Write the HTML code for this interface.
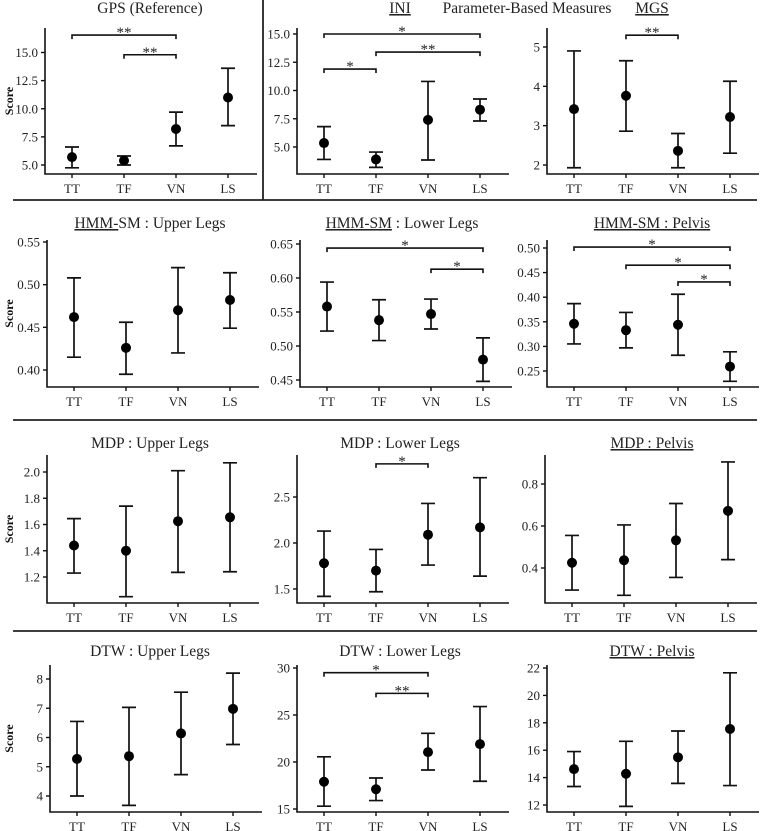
<!DOCTYPE html>
<html><head><meta charset="utf-8"><style>
body{margin:0;background:#fff;}
svg{display:block;font-family:"Liberation Serif",serif;}
</style></head><body>
<svg id="c" width="763" height="831" viewBox="0 0 763 831"></svg>
<script>
const categories=["TT","TF","VN","LS"];
const titles=["GPS (Reference)","INI","MGS","HMM-SM : Upper Legs","HMM-SM : Lower Legs","HMM-SM : Pelvis","MDP : Upper Legs","MDP : Lower Legs","MDP : Pelvis","DTW : Upper Legs","DTW : Lower Legs","DTW : Pelvis"];
const meanValues=[[5.7,5.4,8.2,11.0],[5.35,3.9,7.4,8.3],[3.42,3.76,2.36,3.22],[0.462,0.426,0.47,0.482],[0.558,0.538,0.547,0.48],[0.346,0.333,0.344,0.259],[1.44,1.40,1.625,1.655],[1.78,1.70,2.09,2.17],[0.425,0.437,0.532,0.672],[5.27,5.36,6.14,6.98],[17.9,17.1,21.05,21.9],[14.62,14.28,15.48,17.55]];
const upperValues=[[6.6,5.8,9.7,13.6],[6.8,4.55,10.8,9.25],[4.9,4.65,2.8,4.13],[0.508,0.456,0.52,0.514],[0.594,0.568,0.569,0.512],[0.387,0.369,0.406,0.289],[1.645,1.74,2.01,2.07],[2.13,1.93,2.43,2.71],[0.555,0.605,0.707,0.905],[6.55,7.03,7.55,8.2],[20.55,18.3,23.05,25.9],[15.9,16.65,17.4,21.65]];
const lowerValues=[[4.75,5.0,6.7,8.5],[3.9,3.2,3.85,7.3],[1.93,2.86,1.93,2.3],[0.415,0.395,0.42,0.449],[0.522,0.508,0.525,0.448],[0.305,0.297,0.282,0.229],[1.23,1.05,1.235,1.24],[1.42,1.47,1.76,1.64],[0.295,0.27,0.355,0.44],[4.0,3.68,4.73,5.76],[15.3,15.9,19.15,17.95],[13.35,11.9,13.58,13.42]];
const tickLabels=[["5.0","7.5","10.0","12.5","15.0"],["5.0","7.5","10.0","12.5","15.0"],["2","3","4","5"],["0.40","0.45","0.50","0.55"],["0.45","0.50","0.55","0.60","0.65"],["0.25","0.30","0.35","0.40","0.45","0.50"],["1.2","1.4","1.6","1.8","2.0"],["1.5","2.0","2.5"],["0.4","0.6","0.8"],["4","5","6","7","8"],["15","20","25","30"],["12","14","16","18","20","22"]];
const bracketPanel=[0,0,1,1,1,2,4,4,5,5,5,7,10,10];
const bracketFrom=[0,1,0,0,1,1,0,2,0,1,2,1,0,1];
const bracketTo=[2,2,3,1,3,2,3,3,3,3,3,2,2,2];
const bracketLevel=[16.55,14.8,15.0,11.9,13.4,5.3,0.644,0.613,0.502,0.465,0.431,2.86,29.5,27.3];
const bracketText=["**","**","*","*","**","**","*","*","*","*","*","*","*","**"];

const lefts=[45,297,547,47,300,547,47,297,545,50,297,547];
const rowTop=[28,240,455,665], rowBot=[174,387,603,812], titleY=[13,228,448,656];
const anchors=[[5,165,15,52.5],[5,147,15,34],[2,165,5,47],[0.40,370,0.55,242],[0.45,380,0.65,244],[0.25,371,0.50,248],[1.2,577,2.0,472],[1.5,589,2.5,497],[0.4,568,0.8,484],[4,796,8,679],[15,809,30,668],[12,805,22,668]];
const titleX=[150,400,652,150,402,652,150,400,652,150,400,652];

const NS="http://www.w3.org/2000/svg";
const svg=document.getElementById('c');
function mk(tag,attrs,parent){const e=document.createElementNS(NS,tag);for(const k in attrs)e.setAttribute(k,attrs[k]);(parent||svg).appendChild(e);return e;}
function yScale(p){const a=anchors[p];return v=>a[1]+(v-a[0])*(a[3]-a[1])/(a[2]-a[0]);}
function xScale(p){return i=>lefts[p]+27+i*52;}

for(let p=0;p<12;p++){
  const r=Math.floor(p/3), L=lefts[p], B=rowBot[r], T=rowTop[r];
  const y=yScale(p), x=xScale(p);
  const g=mk('g',{});
  
  
  const ax=mk('path',{d:`M${L},${T}V${B}H${L+212}`,stroke:'#111','stroke-width':1.6,fill:'none'},g);
  
  
  tickLabels[p].forEach(t=>{
    const yy=y(parseFloat(t));
    mk('line',{x1:L-4,x2:L,y1:yy,y2:yy,stroke:'#111','stroke-width':1.4},g);
    const tx=mk('text',{x:L-7,y:yy+4.5,'text-anchor':'end','font-size':13,fill:'#222'},g);
    tx.textContent=t;
    
    
  });
  categories.forEach((c,i)=>{
    const xx=x(i);
    mk('line',{x1:xx,x2:xx,y1:B,y2:B+4,stroke:'#111','stroke-width':1.4},g);
    const tx=mk('text',{x:xx,y:B+19,'text-anchor':'middle','font-size':13,fill:'#222'},g);
    tx.textContent=c;
    
    
    const yu=y(upperValues[p][i]), yl=y(lowerValues[p][i]), ym=y(meanValues[p][i]);
    const eb=mk('path',{d:`M${xx},${yu}V${yl}M${xx-7},${yu}H${xx+7}M${xx-7},${yl}H${xx+7}`,stroke:'#111','stroke-width':1.7,fill:'none'},g);
    
    
    const dot=mk('circle',{cx:xx,cy:ym,r:5,fill:'#000'},g);
    
    
  });
  const t=titles[p];
  const tt=mk('text',{x:titleX[p],y:titleY[r],'text-anchor':'middle','font-size':15.5,fill:'#222'},g);
  
  
  if(p==1||p==2||p==5||p==8||p==11){tt.setAttribute('text-decoration','underline');tt.textContent=t;}
  else if(p==3||p==4){const s=mk('tspan',{'text-decoration':'underline'},tt);s.textContent=p==3?"HMM-":"HMM-SM";const s2=mk('tspan',{},tt);s2.textContent=p==3?"SM : Upper Legs":" : Lower Legs";}
  else tt.textContent=t;
  if(p%3==0){
    const yc=(T+B)/2;
    const sc=mk('text',{x:0,y:0,transform:`translate(13,${yc}) rotate(-90)`,'text-anchor':'middle','font-size':12,'font-weight':'bold',fill:'#111'},g);
    sc.textContent="Score";
    
    
  }
}
for(let b=0;b<bracketPanel.length;b++){
  const p=bracketPanel[b], y=yScale(p), x=xScale(p);
  const yy=y(bracketLevel[b]), x1=x(bracketFrom[b]), x2=x(bracketTo[b]);
  const br=mk('path',{d:`M${x1},${yy+4}V${yy}H${x2}V${yy+4}`,stroke:'#111','stroke-width':1.6,fill:'none'});
  
  
  const tx=mk('text',{x:(x1+x2)/2,y:yy+2,'text-anchor':'middle','font-size':15,fill:'#222'});
  tx.textContent=bracketText[b];
  
  
}
const hd=mk('text',{x:527,y:13,'text-anchor':'middle','font-size':15.5,fill:'#222'});
hd.textContent="Parameter-Based Measures";


[200,420,631].forEach(yy=>{const l=mk('line',{x1:13,x2:757,y1:yy,y2:yy,stroke:'#222','stroke-width':1.8});

});
const vl=mk('line',{x1:263,x2:263,y1:0,y2:200,stroke:'#222','stroke-width':1.8});


</script>
</body></html>
